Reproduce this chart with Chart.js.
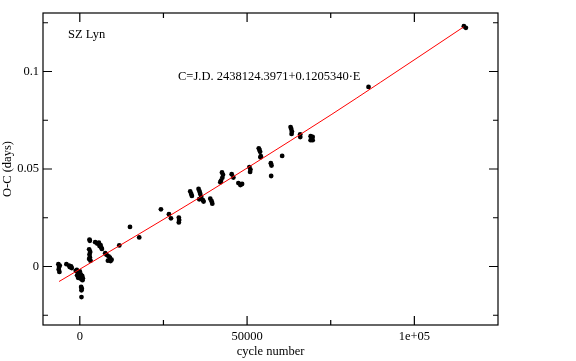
<!DOCTYPE html>
<html>
<head>
<meta charset="utf-8">
<script src="https://cdn.jsdelivr.net/npm/chart.js@4/dist/chart.umd.min.js"></script>
<style>
html,body{margin:0;padding:0;background:#fff;}
#wrap{width:576px;height:361px;}
</style>
</head>
<body>
<div id="wrap"><canvas id="c" width="576" height="361" style="width:576px;height:361px"></canvas></div>
<script>
// ---- data ----
const cycles = [
  -6400,-6200,-6300,-6100,-6000,
  -4000,-3200,-2600,-2400,-3000,
  -1200,-900,-600,-300,0,300,-800,-200,400,700,100,500,800,900,-500,
  400,600,500,500,
  2900,3000,2800,3100,2900,3000,2800,3200,
  4600,5200,5700,6200,6400,6600,5900,
  7600,8000,8600,9000,9500,8400,9200,
  11800,15000,17760,24250,26650,27250,
  29600,29700,29600,
  33000,33300,33500,
  35500,35800,36000,36300,36800,37000,35700,
  39000,39400,39600,
  42500,42800,42600,42200,42000,
  45400,45900,
  47400,48000,48500,
  50700,51000,50900,
  53500,53700,53900,54000,54100,
  57100,57300,57200,60480,
  63000,63200,63400,63300,
  65870,65900,
  69000,69600,69000,69600,
  86300,114800,115400
];
const ocDays = [
  0.0012,-0.0003,-0.0015,-0.0028,0.0005,
  0.0012,0.0005,0.0,-0.0008,-0.0003,
  -0.0022,-0.0018,-0.0028,-0.0035,-0.0025,-0.004,-0.0045,-0.005,-0.0055,-0.0048,-0.006,-0.0065,-0.007,-0.006,-0.0058,
  -0.0105,-0.0114,-0.0122,-0.0157,
  0.0138,0.0132,0.0088,0.0075,0.0062,0.0048,0.0038,0.003,
  0.0125,0.0118,0.0122,0.011,0.0098,0.009,0.0105,
  0.0068,0.006,0.0052,0.0045,0.0035,0.003,0.0028,
  0.0108,0.0203,0.0149,0.0293,0.0268,0.0247,
  0.0251,0.0238,0.0226,
  0.0385,0.0372,0.0362,
  0.0398,0.0385,0.0372,0.0357,0.034,0.0333,0.0345,
  0.0348,0.0335,0.0322,
  0.0482,0.047,0.0455,0.044,0.0432,
  0.0473,0.0456,
  0.0428,0.0418,0.0423,
  0.051,0.0497,0.0485,
  0.0606,0.0598,0.0588,0.056,0.0566,
  0.053,0.0518,0.0464,0.0567,
  0.0715,0.0705,0.0692,0.068,
  0.0678,0.0664,
  0.0668,0.0664,0.0648,0.0648,
  0.0921,0.1232,0.1224
];
// fitted curve
const fitCycles = [-6200, 0, 35930, 62870, 75360, 89820, 114760];
const fitOC     = [-0.0077, -0.0014, 0.0355, 0.0644, 0.0781, 0.0944, 0.1229];

const xTickValues = [0, 50000, 100000];
const xTickLabels = ["0", "50000", "1e+05"];
const xMinorValues = [25000, 75000];
const yTickValues = [0, 0.05, 0.1];
const yTickLabels = ["0", "0.05", "0.1"];
const yMinorValues = [-0.025, 0.025, 0.075, 0.125];

const starName = "SZ Lyn";
const ephemeris = "C=J.D. 2438124.3971+0.1205340\u00B7E";
const xTitle = "cycle number";
const yTitle = "O-C (days)";

// ---- build chart ----
const FONT = "'Liberation Serif', 'Times New Roman', serif";
const pts = cycles.map((c, i) => ({x: c, y: ocDays[i]}));
const fitPts = fitCycles.map((c, i) => ({x: c, y: fitOC[i]}));

const framePlugin = {
  id: 'frame',
  afterDatasetsDraw(chart) {
    const {ctx, chartArea: a, scales: {x, y}} = chart;
    ctx.save();
    ctx.strokeStyle = '#000';
    ctx.lineWidth = 1.2;
    ctx.strokeRect(a.left, a.top, a.right - a.left, a.bottom - a.top);
    const major = 9, minor = 5;
    ctx.beginPath();
    const xt = (v, len) => {
      const px = x.getPixelForValue(v);
      ctx.moveTo(px, a.bottom); ctx.lineTo(px, a.bottom - len);
      ctx.moveTo(px, a.top); ctx.lineTo(px, a.top + len);
    };
    const yt = (v, len) => {
      const py = y.getPixelForValue(v);
      ctx.moveTo(a.left, py); ctx.lineTo(a.left + len, py);
      ctx.moveTo(a.right, py); ctx.lineTo(a.right - len, py);
    };
    xTickValues.forEach(v => xt(v, major));
    xMinorValues.forEach(v => xt(v, minor));
    yTickValues.forEach(v => yt(v, major));
    yMinorValues.forEach(v => yt(v, minor));
    ctx.stroke();
    ctx.fillStyle = '#000';
    ctx.font = "12.5px " + FONT;
    ctx.textBaseline = 'middle';
    ctx.textAlign = 'left';
    ctx.fillText(starName, 68, 34.5);
    ctx.fillText(ephemeris, 178, 77);
    ctx.restore();
  }
};

new Chart(document.getElementById('c'), {
  type: 'scatter',
  data: {
    datasets: [
      {
        type: 'line',
        data: fitPts,
        borderColor: '#ff0000',
        borderWidth: 1,
        pointRadius: 0,
        fill: false,
        cubicInterpolationMode: 'monotone',
        order: 0
      },
      {
        data: pts,
        backgroundColor: '#000',
        borderColor: '#000',
        borderWidth: 0,
        pointRadius: 2.4,
        order: 1
      }
    ]
  },
  options: {
    responsive: false,
    animation: false,
    events: [],
    layout: {padding: {top: 13, right: 78, left: 0, bottom: 0}},
    plugins: {legend: {display: false}, tooltip: {enabled: false}},
    scales: {
      x: {
        type: 'linear',
        min: -11000, max: 125000,
        grid: {display: false, drawTicks: false, tickLength: 0},
        border: {display: false},
        afterBuildTicks: s => { s.ticks = xTickValues.map(v => ({value: v})); },
        afterFit: s => { s.height = 36; },
        ticks: {
          color: '#000', padding: 4,
          font: {family: FONT, size: 12.5},
          maxRotation: 0,
          callback: v => { const i = xTickValues.indexOf(v); return i >= 0 ? xTickLabels[i] : ''; }
        },
        title: {display: true, text: xTitle, color: '#000', font: {family: FONT, size: 12.5}, padding: {top: 0, bottom: 2}}
      },
      y: {
        type: 'linear',
        min: -0.03, max: 0.13,
        grid: {display: false, drawTicks: false, tickLength: 0},
        border: {display: false},
        afterBuildTicks: s => { s.ticks = yTickValues.map(v => ({value: v})); },
        afterFit: s => { s.width = 43; },
        ticks: {
          color: '#000', padding: 4,
          font: {family: FONT, size: 12.5},
          callback: v => { const i = yTickValues.indexOf(v); return i >= 0 ? yTickLabels[i] : ''; }
        },
        title: {display: true, text: yTitle, color: '#000', font: {family: FONT, size: 12.5}, padding: {top: 0, bottom: 0}}
      }
    }
  },
  plugins: [framePlugin]
});
</script>
</body>
</html>
